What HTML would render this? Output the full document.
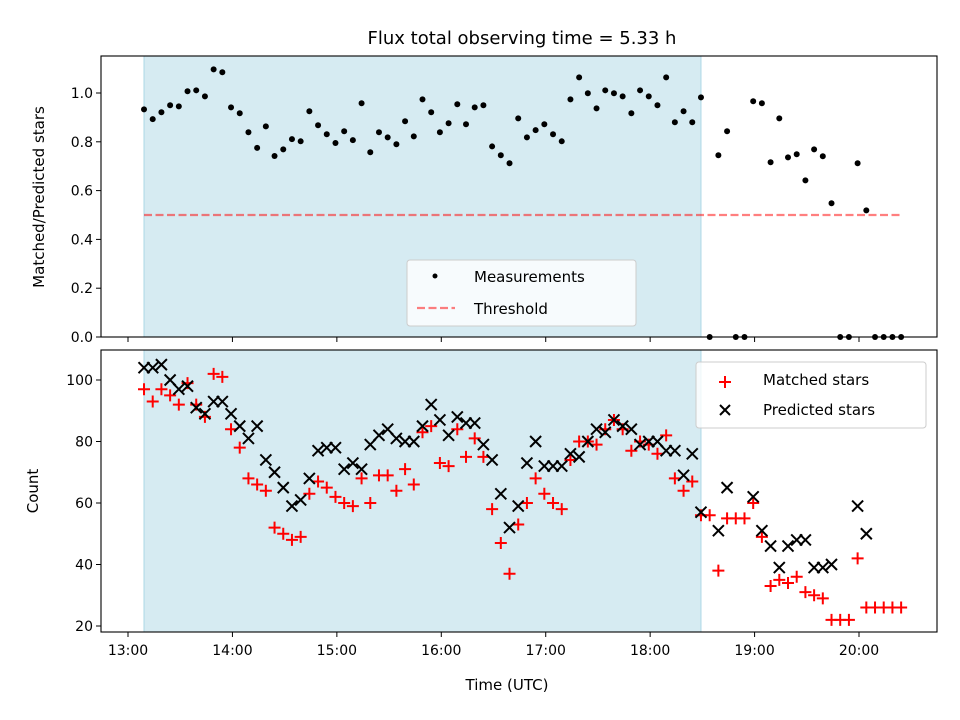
<!DOCTYPE html>
<html><head><meta charset="utf-8"><style>
body{margin:0;background:#fff;}
svg{display:block;font-family:"DejaVu Sans","Liberation Sans",sans-serif;}
</style></head><body>
<svg id="c" width="960" height="720"></svg>
<script>
const ratios=[0.933,0.893,0.921,0.950,0.945,1.007,1.011,0.986,1.097,1.085,0.941,0.917,0.839,0.775,0.863,0.742,0.769,0.811,0.802,0.925,0.868,0.831,0.795,0.843,0.807,0.958,0.757,0.839,0.818,0.790,0.884,0.822,0.974,0.921,0.839,0.876,0.954,0.872,0.941,0.950,0.781,0.745,0.712,0.896,0.818,
0.848,0.872,0.831,0.802,0.974,1.064,0.999,0.937,1.011,0.999,0.986,0.917,1.011,0.986,0.950,1.064,0.880,0.925,0.880,0.982,
0,0.745,0.843,0,0,0.966,0.958,0.716,0.896,0.736,0.749,0.642,0.769,0.741,0.548,0,0,0.712,0.519,0,0,0,0];
const predicted=[104,104,105,100,97,98,91,89,93,93,89,85,81,85,74,70,65,59,61,68,77,78,78,71,73,71,79,82,84,81,80,80,85,92,87,82,88,86,86,79,74,63,52,59,73,
80,72,72,72,76,75,80,84,83,87,85,84,79,80,80,77,77,69,76,57,
null,51,65,null,null,62,51,46,39,46,48,48,39,39,40,null,null,59,50,null,null,null,null];
const matched=[97,93,97,95,92,99,92,88,102,101,84,78,68,66,64,52,50,48,49,63,67,65,62,60,59,68,60,69,69,64,71,66,83,85,73,72,84,75,81,75,58,47,37,53,60,
68,63,60,58,74,80,80,79,84,87,84,77,80,79,76,82,68,64,67,56,
56,38,55,55,55,60,49,33,35,34,36,31,30,29,22,22,22,42,26,26,26,26,26];
const startHour=13+9.2/60, stepHour=5/60;
const xTickLabels=["13:00","14:00","15:00","16:00","17:00","18:00","19:00","20:00"];
const topTicks=[0,0.2,0.4,0.6,0.8,1.0];
const botTicks=[20,40,60,80,100];
const threshold=0.5;
const shadeStart=13+9.2/60, shadeEnd=13+(9.2+64*5)/60, thrEnd=13+(9.2+87*5)/60;

const NS="http://www.w3.org/2000/svg";
const svg=document.getElementById('c');
function el(tag,attrs,parent){const e=document.createElementNS(NS,tag);for(const k in attrs)e.setAttribute(k,attrs[k]);(parent||svg).appendChild(e);return e;}
const L=101,R=937,T1=56,B1=337,T2=350,B2=632;
const xs=h=>128+(h-13)*104.43;
const y1=v=>337-v*244;
const y2=v=>626-(v-20)*3.075;
const times=ratios.map((_,i)=>startHour+stepHour*i);

// backgrounds & shading
let s=el('rect',{x:xs(shadeStart),y:T1,width:xs(shadeEnd)-xs(shadeStart),height:B1-T1,fill:'#add8e6','fill-opacity':0.5,stroke:'#add8e6'});

s=el('rect',{x:xs(shadeStart),y:T2,width:xs(shadeEnd)-xs(shadeStart),height:B2-T2,fill:'#add8e6','fill-opacity':0.5,stroke:'#add8e6'});


// threshold
let th=el('line',{x1:xs(shadeStart),x2:xs(thrEnd),y1:y1(threshold),y2:y1(threshold),stroke:'#ff0000','stroke-opacity':0.5,'stroke-width':2.2,'stroke-dasharray':'8,3.5'});


// top dots
ratios.forEach((r,i)=>{const c=el('circle',{cx:xs(times[i]),cy:y1(r),r:3,fill:'#000'});
});

// bottom markers
matched.forEach((m,i)=>{if(m==null)return;const x=xs(times[i]),y=y2(m);
const p=el('path',{d:`M${x-6},${y}H${x+6}M${x},${y-6}V${y+6}`,stroke:'#ff0000','stroke-width':2});
});
predicted.forEach((m,i)=>{if(m==null)return;const x=xs(times[i]),y=y2(m);
const p=el('path',{d:`M${x-5.5},${y-5.5}L${x+5.5},${y+5.5}M${x-5.5},${y+5.5}L${x+5.5},${y-5.5}`,stroke:'#000','stroke-width':2});
});

// frames
let f=el('rect',{x:L,y:T1,width:R-L,height:B1-T1,fill:'none',stroke:'#000','stroke-width':1.1});

f=el('rect',{x:L,y:T2,width:R-L,height:B2-T2,fill:'none',stroke:'#000','stroke-width':1.1});


// x ticks
xTickLabels.forEach((lab,i)=>{const x=xs(13+i);
el('line',{x1:x,x2:x,y1:B1,y2:B1+5,stroke:'#000'});
el('line',{x1:x,x2:x,y1:B2,y2:B2+5,stroke:'#000'});
const t=el('text',{x:x,y:B2+23,'text-anchor':'middle','font-size':14});t.textContent=lab;
});
topTicks.forEach(v=>{const y=y1(v);el('line',{x1:L-5,x2:L,y1:y,y2:y,stroke:'#000'});
const t=el('text',{x:L-8,y:y+5,'text-anchor':'end','font-size':14});t.textContent=v.toFixed(1);
});
botTicks.forEach(v=>{const y=y2(v);el('line',{x1:L-5,x2:L,y1:y,y2:y,stroke:'#000'});
const t=el('text',{x:L-8,y:y+5,'text-anchor':'end','font-size':14});t.textContent=v;
});

let t=el('text',{x:522,y:44,'text-anchor':'middle','font-size':18});t.textContent='Flux total observing time = 5.33 h';

t=el('text',{x:507,y:690,'text-anchor':'middle','font-size':15});t.textContent='Time (UTC)';

t=el('text',{x:44,y:197,'text-anchor':'middle','font-size':15,transform:'rotate(-90 44 197)'});t.textContent='Matched/Predicted stars';

t=el('text',{x:38,y:491,'text-anchor':'middle','font-size':15,transform:'rotate(-90 38 491)'});t.textContent='Count';


// legends
let g=el('g',{});
el('rect',{x:407,y:260,width:229,height:66,rx:3,fill:'#fff','fill-opacity':0.8,stroke:'#ccc'},g);
el('circle',{cx:435,cy:276,r:2.5,fill:'#000'},g);
t=el('text',{x:474,y:282,'font-size':15},g);t.textContent='Measurements';

el('line',{x1:417,x2:455,y1:308,y2:308,stroke:'#ff0000','stroke-opacity':0.5,'stroke-width':2.2,'stroke-dasharray':'8,3.5'},g);
t=el('text',{x:474,y:314,'font-size':15},g);t.textContent='Threshold';


g=el('g',{});
el('rect',{x:696,y:362,width:230,height:66,rx:3,fill:'#fff','fill-opacity':0.8,stroke:'#ccc'},g);
el('path',{d:'M719,382H731M725,376V388',stroke:'#ff0000','stroke-width':2},g);
t=el('text',{x:763,y:385,'font-size':15},g);t.textContent='Matched stars';

el('path',{d:'M720,405L730,415M720,415L730,405',stroke:'#000','stroke-width':2},g);
t=el('text',{x:763,y:415,'font-size':15},g);t.textContent='Predicted stars';

</script>
</body></html>
